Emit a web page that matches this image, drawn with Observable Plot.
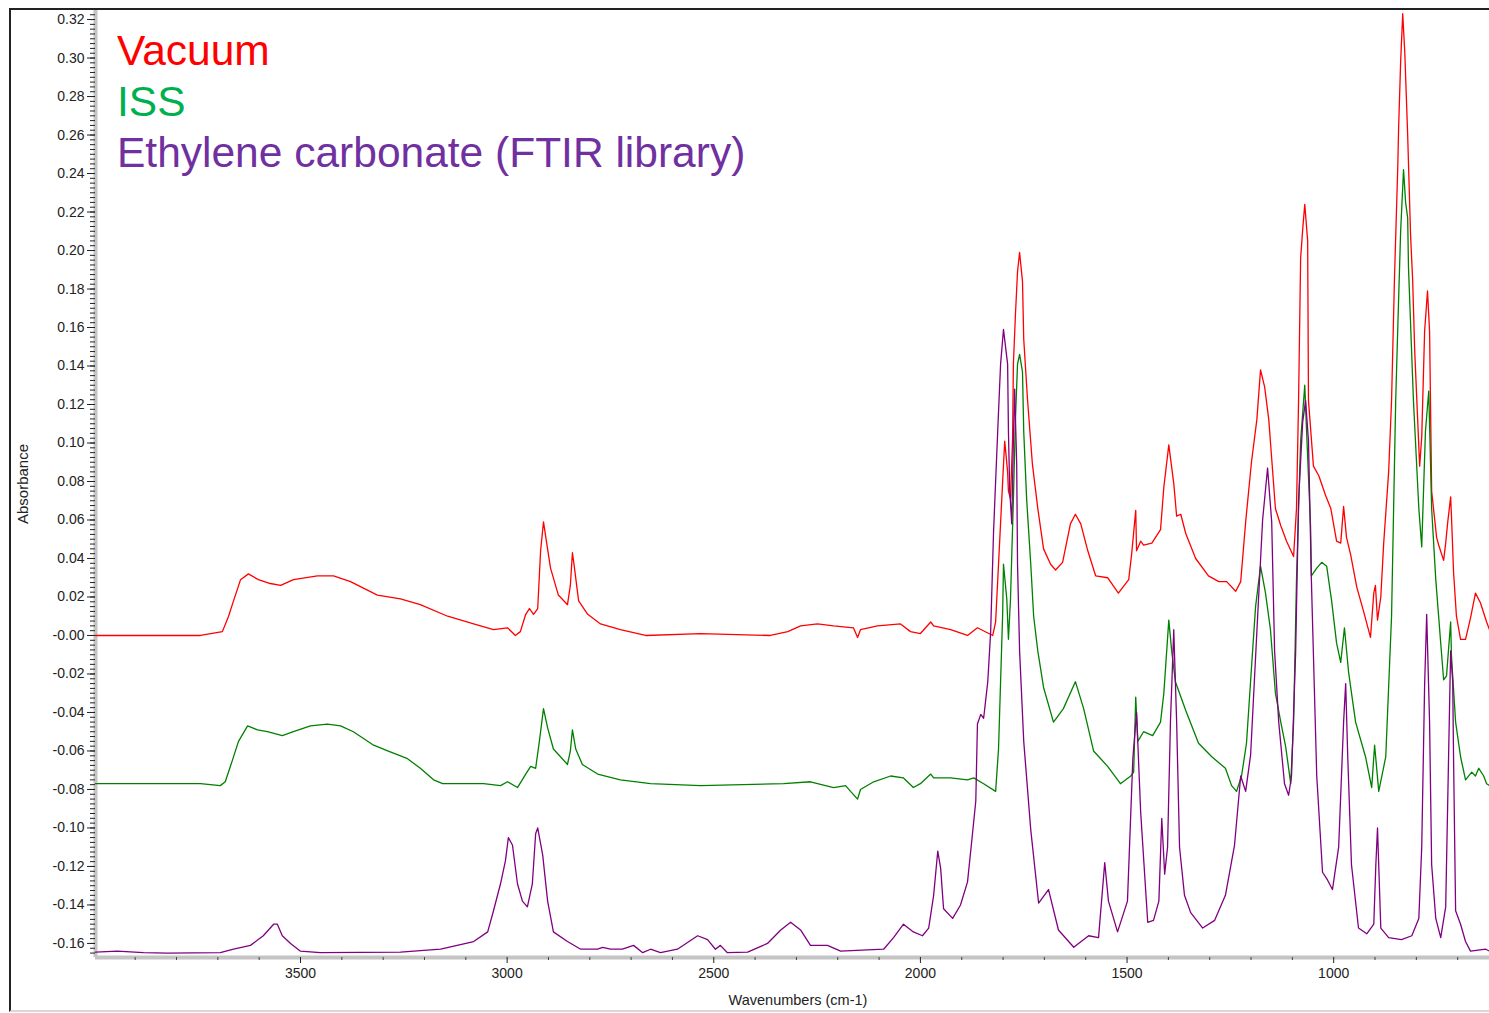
<!DOCTYPE html>
<html><head><meta charset="utf-8">
<script src="https://cdn.jsdelivr.net/npm/d3@7"></script>
<script src="https://cdn.jsdelivr.net/npm/@observablehq/plot@0.6"></script>
<style>
html,body{margin:0;padding:0;background:#fff;overflow:hidden}
#wrap{position:relative;width:1489px;height:1013px;font-family:"Liberation Sans",Arial,sans-serif;overflow:hidden}
#frame{position:absolute;left:9px;top:8px;width:1500px;height:1004px;border-left:2px solid #222;border-top:2px solid #222;border-bottom:2px solid #d8d8d8;box-sizing:border-box;pointer-events:none}
.leg{position:absolute;left:117px;font-size:42.5px;line-height:42px;white-space:nowrap}
#xt{position:absolute;left:798px;top:992px;transform:translateX(-50%);font-size:14.5px;color:#222;white-space:nowrap}
#yt{position:absolute;left:22px;top:484px;transform:translate(-50%,-50%) rotate(-90deg);font-size:15px;color:#222;white-space:nowrap}
#chart{position:absolute;left:0;top:0}
</style></head>
<body><div id="wrap"><div id="chart"></div><div id="frame"></div>
<div class="leg" style="top:30px;color:#ff0000">Vacuum</div>
<div class="leg" style="top:81px;color:#00b050">ISS</div>
<div class="leg" style="top:132px;color:#7030a0">Ethylene carbonate (FTIR library)</div>
<div id="xt">Wavenumbers (cm-1)</div>
<div id="yt">Absorbance</div>
</div>
<script>
// Series: [wavenumber (cm-1), absorbance]
const vacuum = [
[3996,0.000],[3863,0.000],[3742,0.000],[3689,0.002],[3674,0.010],[3662,0.018],[3645,0.029],[3626,0.032],[3602,0.029],[3573,0.027],[3548,0.026],[3517,0.029],[3459,0.031],[3420,0.031],[3379,0.028],[3314,0.021],[3258,0.019],[3210,0.016],[3144,0.010],[3081,0.006],[3033,0.003],[2999,0.004],[2980,0.000],[2968,0.002],[2955,0.011],[2946,0.014],[2936,0.011],[2926,0.014],[2919,0.044],[2912,0.059],[2905,0.049],[2895,0.035],[2876,0.021],[2854,0.016],[2847,0.026],[2842,0.043],[2837,0.035],[2827,0.018],[2805,0.011],[2774,0.006],[2726,0.003],[2665,0.000],[2532,0.001],[2363,0.000],[2321,0.002],[2290,0.005],[2249,0.006],[2210,0.005],[2162,0.004],[2152,-0.001],[2145,0.003],[2104,0.005],[2048,0.006],[2024,0.002],[2000,0.001],[1975,0.007],[1968,0.005],[1927,0.003],[1886,0.000],[1862,0.004],[1825,0.000],[1818,0.007],[1811,0.037],[1801,0.080],[1796,0.101],[1789,0.085],[1787,0.075],[1782,0.071],[1777,0.102],[1775,0.141],[1770,0.167],[1765,0.189],[1760,0.199],[1753,0.184],[1750,0.154],[1741,0.123],[1729,0.089],[1716,0.066],[1702,0.045],[1685,0.037],[1673,0.034],[1656,0.038],[1637,0.058],[1625,0.063],[1612,0.058],[1595,0.044],[1576,0.031],[1547,0.030],[1521,0.022],[1496,0.029],[1489,0.042],[1479,0.065],[1477,0.044],[1467,0.049],[1460,0.047],[1440,0.048],[1419,0.055],[1411,0.077],[1399,0.099],[1387,0.079],[1380,0.062],[1370,0.063],[1358,0.053],[1334,0.040],[1303,0.031],[1278,0.028],[1259,0.028],[1237,0.023],[1225,0.028],[1213,0.059],[1199,0.090],[1186,0.112],[1177,0.138],[1167,0.129],[1157,0.112],[1141,0.066],[1128,0.057],[1114,0.049],[1097,0.041],[1090,0.066],[1085,0.122],[1080,0.196],[1075,0.211],[1070,0.224],[1063,0.205],[1061,0.122],[1049,0.088],[1036,0.083],[1020,0.073],[1007,0.066],[993,0.049],[983,0.048],[976,0.067],[969,0.051],[959,0.042],[944,0.025],[927,0.012],[911,-0.001],[903,0.022],[899,0.026],[894,0.008],[886,0.020],[879,0.048],[867,0.085],[860,0.122],[853,0.185],[845,0.243],[843,0.263],[838,0.298],[833,0.323],[828,0.303],[821,0.260],[814,0.208],[809,0.185],[804,0.148],[792,0.088],[787,0.103],[780,0.158],[773,0.179],[768,0.158],[763,0.075],[751,0.051],[746,0.047],[734,0.039],[729,0.048],[724,0.059],[717,0.072],[715,0.062],[710,0.033],[703,0.010],[693,-0.002],[681,-0.002],[669,0.009],[657,0.022],[645,0.017],[630,0.007],[623,0.003]
];
const iss = [
[3996,-0.077],[3863,-0.077],[3742,-0.077],[3694,-0.078],[3682,-0.076],[3665,-0.065],[3650,-0.055],[3628,-0.047],[3604,-0.049],[3580,-0.050],[3544,-0.052],[3517,-0.050],[3476,-0.047],[3435,-0.046],[3403,-0.047],[3372,-0.050],[3323,-0.057],[3289,-0.060],[3241,-0.064],[3210,-0.069],[3178,-0.075],[3156,-0.077],[3057,-0.077],[3016,-0.078],[2999,-0.076],[2975,-0.079],[2955,-0.072],[2943,-0.068],[2931,-0.069],[2922,-0.055],[2912,-0.038],[2902,-0.048],[2888,-0.059],[2854,-0.067],[2847,-0.060],[2842,-0.049],[2834,-0.059],[2818,-0.067],[2781,-0.072],[2726,-0.075],[2653,-0.077],[2532,-0.078],[2331,-0.077],[2266,-0.076],[2210,-0.079],[2181,-0.078],[2169,-0.081],[2152,-0.085],[2145,-0.080],[2113,-0.076],[2072,-0.073],[2041,-0.074],[2017,-0.079],[2000,-0.077],[1975,-0.072],[1968,-0.074],[1927,-0.074],[1886,-0.075],[1871,-0.074],[1847,-0.077],[1818,-0.081],[1811,-0.059],[1806,-0.024],[1801,0.011],[1799,0.037],[1791,0.019],[1787,-0.002],[1782,0.019],[1775,0.071],[1770,0.113],[1765,0.141],[1760,0.146],[1753,0.137],[1750,0.106],[1743,0.071],[1733,0.037],[1726,0.010],[1716,-0.008],[1702,-0.027],[1678,-0.045],[1654,-0.038],[1625,-0.024],[1605,-0.038],[1581,-0.060],[1547,-0.068],[1516,-0.077],[1491,-0.073],[1484,-0.071],[1479,-0.032],[1474,-0.055],[1460,-0.050],[1438,-0.052],[1419,-0.045],[1411,-0.030],[1399,0.008],[1392,-0.008],[1383,-0.024],[1358,-0.039],[1327,-0.056],[1295,-0.063],[1262,-0.069],[1247,-0.078],[1235,-0.081],[1223,-0.073],[1211,-0.056],[1199,-0.017],[1189,0.015],[1177,0.036],[1165,0.022],[1153,0.003],[1141,-0.030],[1128,-0.045],[1116,-0.058],[1104,-0.077],[1097,-0.045],[1090,0.029],[1080,0.101],[1070,0.130],[1065,0.103],[1056,0.057],[1054,0.031],[1041,0.035],[1029,0.038],[1017,0.036],[1005,0.018],[993,-0.004],[983,-0.014],[974,0.004],[964,-0.019],[947,-0.045],[923,-0.063],[908,-0.079],[901,-0.057],[891,-0.081],[874,-0.063],[860,0.010],[850,0.122],[843,0.174],[838,0.210],[831,0.242],[826,0.225],[821,0.217],[819,0.191],[807,0.122],[794,0.066],[787,0.046],[778,0.106],[770,0.127],[763,0.066],[753,0.029],[741,-0.004],[734,-0.023],[727,-0.021],[717,0.007],[715,-0.011],[705,-0.045],[693,-0.063],[681,-0.075],[666,-0.071],[657,-0.073],[649,-0.069],[637,-0.073],[630,-0.077],[623,-0.078]
];
const ethyleneCarbonate = [
[3996,-0.1645],[3943,-0.164],[3880,-0.1648],[3822,-0.165],[3694,-0.1648],[3662,-0.163],[3621,-0.161],[3590,-0.156],[3565,-0.150],[3556,-0.150],[3544,-0.156],[3524,-0.160],[3500,-0.164],[3452,-0.1648],[3258,-0.1645],[3161,-0.163],[3081,-0.159],[3047,-0.154],[3033,-0.143],[3016,-0.129],[3004,-0.117],[2997,-0.105],[2987,-0.109],[2975,-0.129],[2963,-0.138],[2951,-0.141],[2939,-0.129],[2931,-0.103],[2926,-0.100],[2914,-0.114],[2902,-0.138],[2888,-0.154],[2854,-0.159],[2822,-0.163],[2781,-0.163],[2769,-0.162],[2750,-0.163],[2721,-0.163],[2694,-0.161],[2672,-0.1648],[2653,-0.163],[2629,-0.1648],[2588,-0.163],[2539,-0.156],[2515,-0.158],[2496,-0.163],[2484,-0.161],[2467,-0.1648],[2418,-0.1645],[2370,-0.160],[2338,-0.153],[2314,-0.149],[2290,-0.153],[2266,-0.161],[2225,-0.161],[2193,-0.164],[2089,-0.163],[2065,-0.157],[2041,-0.150],[2017,-0.154],[1995,-0.156],[1980,-0.152],[1968,-0.135],[1958,-0.112],[1951,-0.121],[1944,-0.142],[1922,-0.147],[1903,-0.140],[1886,-0.128],[1874,-0.103],[1866,-0.086],[1862,-0.046],[1854,-0.041],[1847,-0.043],[1837,-0.024],[1830,0.002],[1823,0.054],[1813,0.106],[1806,0.141],[1799,0.159],[1789,0.141],[1787,0.106],[1784,0.076],[1779,0.058],[1775,0.102],[1772,0.128],[1767,0.089],[1765,0.037],[1760,-0.008],[1750,-0.055],[1733,-0.101],[1714,-0.139],[1690,-0.132],[1666,-0.153],[1629,-0.162],[1593,-0.156],[1569,-0.157],[1554,-0.118],[1545,-0.138],[1523,-0.154],[1499,-0.138],[1486,-0.064],[1477,-0.040],[1467,-0.092],[1450,-0.149],[1436,-0.148],[1423,-0.138],[1416,-0.095],[1409,-0.124],[1402,-0.110],[1395,-0.045],[1387,0.003],[1380,-0.045],[1373,-0.110],[1361,-0.135],[1346,-0.144],[1317,-0.152],[1288,-0.148],[1262,-0.135],[1240,-0.109],[1225,-0.073],[1213,-0.081],[1201,-0.062],[1184,0.010],[1172,0.060],[1160,0.087],[1150,0.059],[1143,-0.008],[1133,-0.045],[1119,-0.077],[1109,-0.083],[1102,-0.073],[1092,-0.008],[1085,0.070],[1075,0.111],[1068,0.122],[1061,0.101],[1054,0.029],[1041,-0.073],[1027,-0.123],[1015,-0.127],[1003,-0.132],[988,-0.110],[976,-0.045],[971,-0.025],[966,-0.063],[957,-0.119],[940,-0.152],[920,-0.155],[903,-0.150],[898,-0.119],[894,-0.100],[886,-0.152],[867,-0.157],[836,-0.158],[811,-0.156],[794,-0.147],[787,-0.110],[780,-0.026],[775,0.011],[768,-0.045],[763,-0.119],[753,-0.147],[741,-0.157],[729,-0.141],[722,-0.063],[717,-0.008],[712,-0.024],[710,-0.063],[705,-0.143],[693,-0.150],[681,-0.159],[669,-0.164],[632,-0.163],[623,-0.164]
];
const xTicks = [3500, 3000, 2500, 2000, 1500, 1000];
const yTicks = [0.32,0.30,0.28,0.26,0.24,0.22,0.20,0.18,0.16,0.14,0.12,0.10,0.08,0.06,0.04,0.02,0.00,-0.02,-0.04,-0.06,-0.08,-0.10,-0.12,-0.14,-0.16];
const xDomain = [3996, 623];
const yDomain = [-0.1673, 0.3247];

const xMinor = d3.range(3900, 600, -100).filter(v => v % 500 !== 0);
const yMinor = d3.range(-0.165, 0.3249, 0.0025);
const fmtY = d => Math.abs(d) < 1e-9 ? "-0.00" : d.toFixed(2);
const P = d => d[0], A = d => d[1];

const chart = Plot.plot({
  width: 1489, height: 1013,
  marginLeft: 95, marginRight: 0, marginTop: 10, marginBottom: 56,
  x: {domain: xDomain},
  y: {domain: yDomain},
  style: {fontFamily: "'Liberation Sans', Arial, sans-serif", fontSize: "14px", color: "#222", background: "transparent", overflow: "visible"},
  marks: [
    Plot.ruleX([xDomain[0]], {stroke: "#c4c4c4", strokeWidth: 4}),
    Plot.ruleY([yDomain[0]], {stroke: "#c4c4c4", strokeWidth: 4}),
    Plot.line(vacuum, {x: P, y: A, stroke: "#ff0000", strokeWidth: 1.3}),
    Plot.line(iss, {x: P, y: A, stroke: "#008000", strokeWidth: 1.3}),
    Plot.line(ethyleneCarbonate, {x: P, y: A, stroke: "#800080", strokeWidth: 1.3}),
    Plot.axisY(yMinor, {tickSize: 5, tickFormat: () => "", label: null, stroke: "#222"}),
    Plot.axisY(yTicks, {tickSize: 8, tickPadding: 3, tickFormat: fmtY, label: null, stroke: "#222"}),
    Plot.axisX(xMinor, {tickSize: 3, tickFormat: () => "", label: null, stroke: "#444"}),
    Plot.axisX(xTicks, {tickSize: 6, tickPadding: 5, tickFormat: d => String(d), label: null, stroke: "#222"})
  ]
});
document.getElementById("chart").appendChild(chart);
</script>
</body></html>
